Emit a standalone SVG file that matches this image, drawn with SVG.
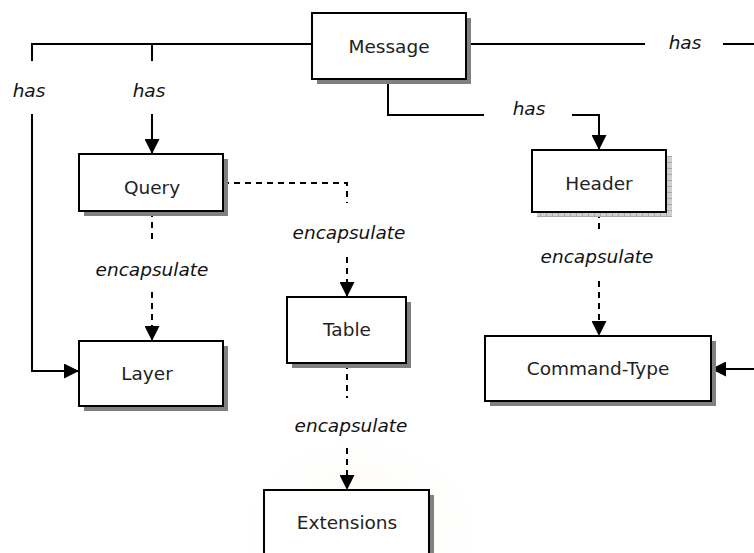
<svg xmlns="http://www.w3.org/2000/svg" width="754" height="553" viewBox="0 0 754 553">
  <defs>
    <style>
      .box { fill: #ffffff; stroke: #000000; stroke-width: 2; }
      .shadow { fill: #808080; }
      .name { font-family: "DejaVu Sans", "Liberation Sans", sans-serif; font-size: 18.5px; fill: #222222; text-anchor: middle; }
      .rel { font-family: "DejaVu Sans", "Liberation Sans", sans-serif; font-size: 18.5px; font-style: italic; fill: #111111; text-anchor: middle; }
      .solid { fill: none; stroke: #000000; stroke-width: 2; }
      .dash { fill: none; stroke: #000000; stroke-width: 2; stroke-dasharray: 6 5; }
    </style>
    <marker id="arrow" viewBox="0 0 16 16" refX="16" refY="8" markerWidth="16" markerHeight="15" markerUnits="userSpaceOnUse" orient="auto">
      <path d="M0,0 L16,8 L0,16 Z" fill="#000000"/>
    </marker>
    <pattern id="grid" width="6" height="6" patternUnits="userSpaceOnUse">
      <rect width="6" height="6" fill="#cfcfcf"/>
      <path d="M0,0.5 H6 M0.5,0 V6" stroke="#a8a8a8" stroke-width="1"/>
    </pattern>
    <radialGradient id="haze" cx="0.5" cy="0.5" r="0.5">
      <stop offset="0" stop-color="#f7f0d8" stop-opacity="0.6"/>
      <stop offset="1" stop-color="#ffffff" stop-opacity="0"/>
    </radialGradient>
  </defs>

  <rect width="754" height="553" fill="#ffffff"/>
  <ellipse cx="360" cy="525" rx="130" ry="95" fill="url(#haze)"/>

  <g id="connectors">
    <!-- Message to Layer -->
    <path class="solid" d="M312,44 H32 V61"/>
    <path class="solid" d="M32,114 V371 H79" marker-end="url(#arrow)"/>
    <!-- Message to Query -->
    <path class="solid" d="M152,44 V61"/>
    <path class="solid" d="M152,114 V154" marker-end="url(#arrow)"/>
    <!-- Message to Command-Type (routed off the right edge) -->
    <path class="solid" d="M466,44 H645"/>
    <path class="solid" d="M723,44 H754"/>
    <path class="solid" d="M754,369 H711" marker-end="url(#arrow)"/>
    <!-- Message to Header -->
    <path class="solid" d="M388,79 V115 H484"/>
    <path class="solid" d="M572,115 H599 V150" marker-end="url(#arrow)"/>
    <!-- Query to Table -->
    <path class="dash" d="M223,183 H347 V203"/>
    <path class="dash" d="M347,257 V297" marker-end="url(#arrow)"/>
    <!-- Query to Layer -->
    <path class="dash" d="M152,211 V240"/>
    <path class="dash" d="M152,292 V341" marker-end="url(#arrow)"/>
    <!-- Header to Command-Type -->
    <path class="dash" d="M599,212 V229"/>
    <path class="dash" d="M599,281 V336" marker-end="url(#arrow)"/>
    <!-- Table to Extensions -->
    <path class="dash" d="M347,363 V398"/>
    <path class="dash" d="M347,448 V490" marker-end="url(#arrow)"/>

    <text class="rel" x="29" y="97">has</text>
    <text class="rel" x="149" y="97">has</text>
    <text class="rel" x="685" y="49">has</text>
    <text class="rel" x="529" y="115">has</text>
    <text class="rel" x="152" y="276">encapsulate</text>
    <text class="rel" x="349" y="239">encapsulate</text>
    <text class="rel" x="597" y="263">encapsulate</text>
    <text class="rel" x="351" y="432">encapsulate</text>
  </g>

  <g id="message">
    <rect class="shadow" x="317" y="18" width="154" height="66"/>
    <rect class="box" x="312" y="13" width="154" height="66"/>
    <text class="name" x="389" y="53">Message</text>
  </g>

  <g id="query">
    <rect class="shadow" x="84" y="159" width="144" height="57"/>
    <rect class="box" x="79" y="154" width="144" height="57"/>
    <text class="name" x="152" y="194">Query</text>
  </g>

  <g id="header">
    <rect x="537" y="156" width="135" height="61" fill="url(#grid)"/>
    <rect class="box" x="532" y="150" width="134" height="62"/>
    <text class="name" x="599" y="190">Header</text>
  </g>

  <g id="table">
    <rect class="shadow" x="292" y="302" width="119" height="66"/>
    <rect class="box" x="287" y="297" width="119" height="66"/>
    <text class="name" x="347" y="336">Table</text>
  </g>

  <g id="layer">
    <rect class="shadow" x="84" y="346" width="144" height="65"/>
    <rect class="box" x="79" y="341" width="144" height="65"/>
    <text class="name" x="147" y="380">Layer</text>
  </g>

  <g id="command-type">
    <rect class="shadow" x="490" y="341" width="226" height="65"/>
    <rect class="box" x="485" y="336" width="226" height="65"/>
    <text class="name" x="598" y="375">Command-Type</text>
  </g>

  <g id="extensions">
    <rect class="shadow" x="269" y="495" width="165" height="70"/>
    <rect class="box" x="264" y="490" width="165" height="75"/>
    <text class="name" x="347" y="529">Extensions</text>
  </g>
</svg>
